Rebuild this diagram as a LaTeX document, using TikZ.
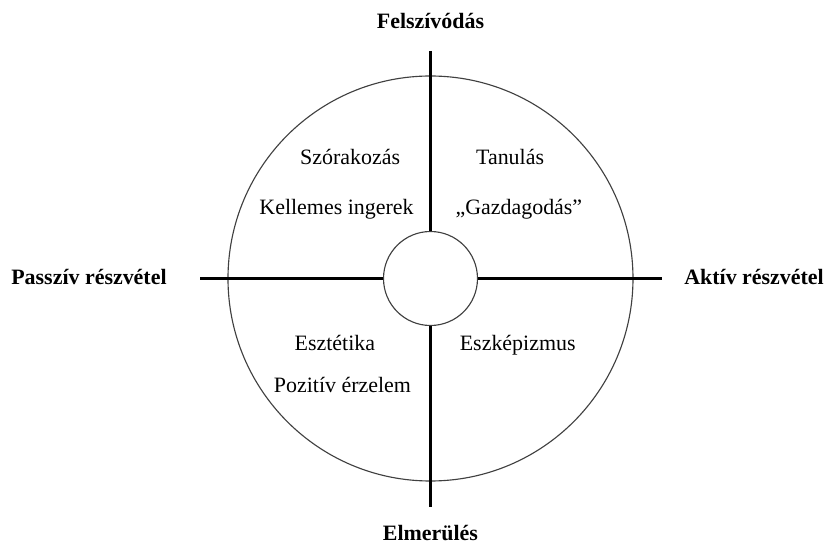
\documentclass[tikz,border=0pt]{standalone}
\usepackage{fontspec}
\setmainfont{Liberation Serif}
\tikzset{
  axisline/.style={line width=2.3pt, black},
  ring/.style={draw=black!75, line width=0.8pt, circle, inner sep=0pt},
  polelabel/.style={font=\fontsize{15.6}{18}\selectfont\bfseries, inner sep=0pt},
  quadtext/.style={font=\fontsize{15.6}{18}\selectfont, inner sep=0pt, anchor=base}
}
\begin{document}
\begin{tikzpicture}[x=1cm,y=1cm]
\useasboundingbox (-10.7625,-6.6625) rectangle (9.8375,6.9625);
\node[ring, minimum size=10.125cm] (rim) at (0,0) {};
\node[ring, minimum size=2.35cm, fill=white] (hub) at (0,0) {};

\coordinate (top) at (0,5.69);
\coordinate (bottom) at (0,-5.71);
\coordinate (left) at (-5.76,0);
\coordinate (right) at (5.79,0);

\draw[axisline] (top) -- (hub.north);
\draw[axisline] (hub.south) -- (bottom);
\draw[axisline] (left) -- (hub.west);
\draw[axisline] (hub.east) -- (right);

\node[polelabel, anchor=base] (absorb) at (0,6.24) {Felszívódás};
\node[polelabel, anchor=base] (immerse) at (0,-6.54) {Elmerülés};
\node[polelabel, anchor=base east] (passive) at (-6.59,-0.16) {Passzív részvétel};
\node[polelabel, anchor=base] (active) at (8.09,-0.16) {Aktív részvétel};

\node[quadtext] (fun) at (-2.01,2.84) {Szórakozás};
\node[quadtext] (stimuli) at (-2.35,1.59) {Kellemes ingerek};
\node[quadtext] (learn) at (1.99,2.84) {Tanulás};
\node[quadtext] (enrich) at (2.21,1.59) {„Gazdagodás”};
\node[quadtext] (aesth) at (-2.39,-1.79) {Esztétika};
\node[quadtext] (emotion) at (-2.2,-2.84) {Pozitív érzelem};
\node[quadtext] (escape) at (2.18,-1.79) {Eszképizmus};
\end{tikzpicture}
\end{document}
